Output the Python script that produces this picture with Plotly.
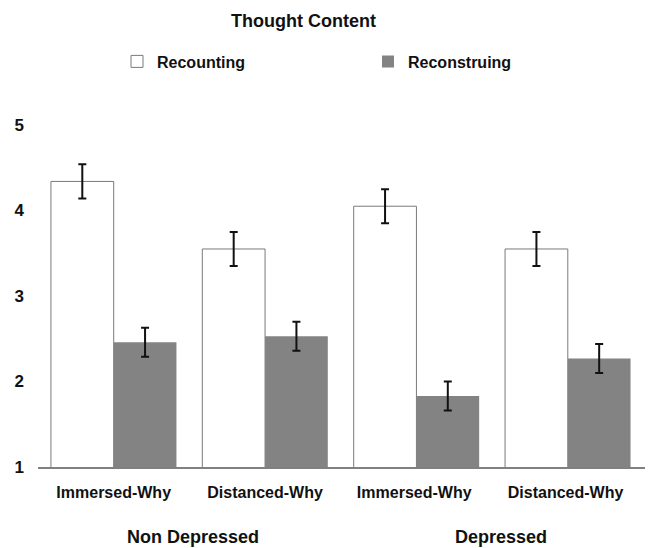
import plotly.graph_objects as go

categories = ["Immersed-Why", "Distanced-Why", "Immersed-Why ", "Distanced-Why "]
recounting = [4.34, 3.55, 4.05, 3.55]
recounting_err = [0.20, 0.20, 0.20, 0.20]
reconstruing = [2.46, 2.53, 1.83, 2.27]
reconstruing_err = [0.17, 0.17, 0.17, 0.17]
group_labels = ["Non Depressed", "Depressed"]
y_ticks = [1, 2, 3, 4, 5]

FONT = "Liberation Sans, Arial, Helvetica, sans-serif"
W, H = 648, 548

fig = go.Figure()
fig.add_trace(go.Bar(
    name="Recounting", x=categories, y=recounting,
    marker=dict(color="white", line=dict(color="#7a7a7a", width=1)),
    error_y=dict(type="data", array=recounting_err, color="#111111", thickness=2, width=4),
))
fig.add_trace(go.Bar(
    name="Reconstruing", x=categories, y=reconstruing,
    marker=dict(color="#838383", line=dict(color="#838383", width=0)),
    error_y=dict(type="data", array=reconstruing_err, color="#111111", thickness=2, width=4),
))

plot_left, plot_right = 38, 645
plot_top, plot_bottom = 125, 467.5
plot_h = plot_bottom - plot_top

fig.update_layout(
    width=W, height=H,
    paper_bgcolor="white", plot_bgcolor="white",
    margin=dict(l=plot_left, r=W - plot_right, t=plot_top, b=H - plot_bottom),
    barmode="group", bargap=0.171, bargroupgap=0,
    font=dict(family=FONT, size=16, color="#111111", weight="bold"),
    title=dict(text="Thought Content", x=303.5 / W, xanchor="center", xref="container",
               y=1 - 21 / H, yanchor="middle", yref="container",
               font=dict(family=FONT, size=18, color="#111111", weight="bold")),
    showlegend=True,
    legend=dict(orientation="h", x=117 / W, xanchor="left", xref="container",
                y=1 - 61.5 / H, yanchor="middle", yref="container",
                entrywidth=206, entrywidthmode="pixels",
                font=dict(family=FONT, size=16, color="#111111", weight="bold"),
                bgcolor="rgba(0,0,0,0)", traceorder="normal"),
    xaxis=dict(range=[-0.5, 3.51], showline=True, linecolor="#808080", linewidth=1.5,
               ticks="", showgrid=False, zeroline=False, ticklabelstandoff=10,
               tickfont=dict(family=FONT, size=16, color="#111111", weight="bold")),
    yaxis=dict(range=[1, 5], tickvals=y_ticks, showline=False, showgrid=False,
               zeroline=False, ticks="", ticklabelstandoff=13,
               tickfont=dict(family=FONT, size=17, color="#111111", weight="bold")),
)

for label, xc in zip(group_labels, [193, 501]):
    fig.add_annotation(text=label, x=(xc - plot_left) / (plot_right - plot_left), xref="paper",
                       xanchor="center",
                       y=(plot_bottom - 538) / plot_h, yref="paper", yanchor="middle",
                       showarrow=False,
                       font=dict(family=FONT, size=18, color="#111111", weight="bold"))

fig.write_html("out.html", config={"displayModeBar": False},
               post_script="document.body.style.margin='0';")
